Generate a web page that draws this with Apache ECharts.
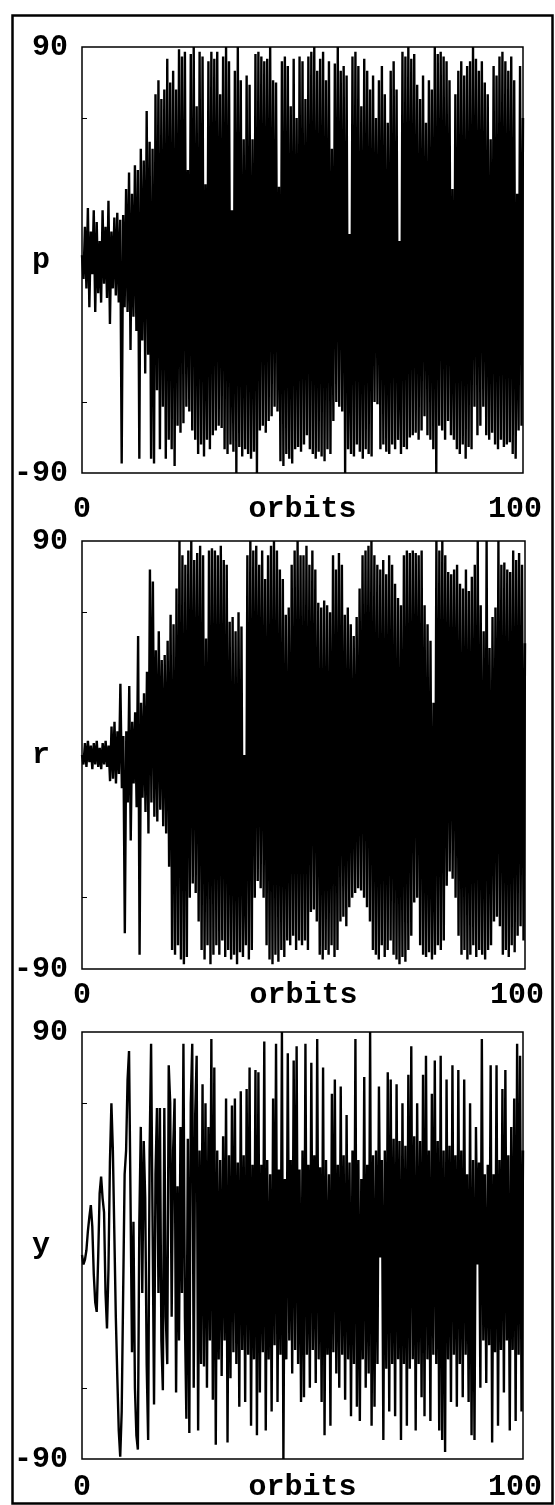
<!DOCTYPE html>
<html>
<head>
<meta charset="utf-8">
<title>p r y vs orbits</title>
<script src="https://cdn.jsdelivr.net/npm/echarts@6/dist/echarts.min.js"></script>
<style>
  html, body { margin: 0; padding: 0; background: #fff; }
  #chart { width: 555px; height: 1505px; }
</style>
</head>
<body>
<div id="chart"></div>
<script>
var pitch = [
  2,-8,14,-12,22,-20,12,-6,21,-22,16,-14,8,-18,21,-10,14,-16,25,-27,12,-12,18,-15,20,-18,17,-86,19,-20,
  30,-22,37,-38,28,-24,40,-30,38,-84,47,-34,42,-48,63,-40,50,-84,47,-86,70,-55,76,-80,68,-62,72,-84,85,-76,
  75,-80,80,-87,72,-70,89,-73,86,-69,88,-62,38,-64,87,-72,90,-76,65,-82,88,-78,86,-83,32,-76,84,-80,88,-74,
  85,-72,88,-70,70,-71,86,-80,90,-82,84,-78,21,-81,80,-90,90,-79,76,-83,51,-80,78,-82,74,-84,51,-81,87,-90,
  88,-72,86,-70,84,-73,85,-68,90,-66,76,-62,75,-64,31,-85,84,-87,86,-82,82,-84,65,-86,85,-80,60,-79,86,-81,
  84,-78,68,-74,86,-80,88,-82,90,-84,80,-81,85,-83,88,-85,76,-80,84,-82,47,-68,83,-60,90,-62,80,-64,82,-90,
  78,-80,11,-82,86,-83,88,-78,82,-81,65,-84,85,-80,80,-82,72,-83,78,-60,60,-61,76,-80,82,-78,70,-81,58,-82,
  80,-78,84,-80,72,-76,8,-82,88,-79,86,-80,90,-75,85,-74,87,-73,74,-76,68,-72,78,-66,58,-74,76,-76,72,-80,
  90,-90,87,-70,88,-72,86,-76,84,-68,76,-74,30,-76,70,-80,80,-82,84,-78,78,-84,82,-79,84,-80,90,-62,85,-74,
  80,-70,84,-62,75,-74,70,-76,51,-73,82,-78,78,-80,86,-76,88,-79,84,-78,80,-77,86,-82,76,-84,28,-72,82,-70,
  60
];

var roll = [
  0,-4,5,-5,6,-3,4,-6,5,-4,6,-5,3,-6,5,-4,6,-5,4,-11,12,-10,14,-12,10,-8,30,-14,8,-75,
  10,-20,29,-36,14,-12,18,-22,50,-84,22,-18,26,-24,35,-33,78,-20,73,-26,44,-28,52,-23,40,-30,42,-33,48,-47,
  59,-82,55,-84,70,-80,90,-86,84,-88,80,-85,86,-60,90,-54,82,-58,85,-70,88,-82,84,-86,49,-80,86,-88,87,-84,
  86,-80,84,-84,88,-78,82,-85,80,-82,56,-86,58,-84,52,-88,60,-83,54,-85,0,-80,84,-86,90,-82,86,-60,88,-53,
  80,-56,86,-60,74,-80,84,-86,88,-88,90,-84,86,-87,78,-82,74,-85,59,-78,62,-80,80,-76,86,-82,90,-78,84,-80,
  84,-78,88,-82,80,-66,86,-65,78,-70,64,-84,62,-86,65,-82,63,-84,60,-80,84,-85,78,-82,85,-70,80,-68,59,-72,
  62,-64,55,-60,50,-58,58,-56,70,-57,84,-60,86,-64,88,-70,90,-82,84,-84,80,-86,78,-80,82,-85,76,-82,84,-78,
  80,-84,72,-86,66,-88,63,-85,84,-87,86,-82,85,-76,86,-62,85,-60,84,-80,86,-84,63,-85,55,-83,48,-86,22,-84,
  90,-80,86,-82,90,-78,84,-55,77,-49,76,-52,78,-60,80,-76,72,-84,70,-82,78,-86,69,-84,75,-80,80,-85,90,-82,
  63,-84,52,-86,90,-82,45,-80,58,-70,62,-68,90,-72,80,-84,81,-82,78,-85,77,-80,86,-83,82,-76,85,-72,80,-78,
  47
];

var yaw = [
  -4,-8,-6,-2,6,12,17,8,-12,-24,-28,-5,22,29,20,14,-20,-35,-10,35,60,40,5,-30,-55,-78,-89,-70,-20,30,
  40,70,82,20,-45,10,-60,-80,-86,10,50,-20,44,20,-50,-82,40,85,10,-67,30,58,-20,58,-40,-61,58,-30,-50,76,
  60,-30,40,62,-62,25,-40,50,-20,85,-30,-73,45,-79,60,85,-60,55,80,-78,40,-50,68,-51,60,-60,50,-40,87,-65,
  75,-84,40,-48,36,-55,46,-40,62,-83,38,-56,59,-45,62,-50,35,-68,65,-44,38,-66,66,-46,75,-76,34,-48,74,-80,
  73,-62,34,-45,86,-78,36,-48,30,-70,62,-42,85,-66,32,-46,90,-90,28,-48,81,-40,36,-54,78,-44,84,-50,32,-66,
  40,-64,85,-46,34,-60,77,-44,38,-58,87,-48,33,-66,75,-80,36,-46,30,-76,64,-45,70,-54,34,-60,67,-46,38,-65,
  55,-48,35,-72,40,-50,87,-68,36,-74,28,-48,71,-60,34,-54,90,-76,38,-68,40,-50,67,-5,36,-82,40,-52,73,-70,
  70,-50,45,-72,68,-48,44,-82,60,-50,42,-76,72,-52,84,-48,46,-78,60,-50,44,-64,72,-72,80,-48,40,-74,64,-46,
  78,-50,44,-78,80,-82,40,-87,70,-48,42,-66,76,-46,38,-68,74,-50,40,-64,70,-46,30,-66,60,-80,36,-82,50,-8,
  35,-60,87,-40,30,-58,34,-42,76,-83,30,-45,76,-76,36,-44,66,-62,74,-40,38,-78,50,-44,62,-74,85,-46,80,-70,
  40
];

var panelNames = ['p', 'r', 'y'];
var yLabels = [-90, 90];
var yTicks = [-60, 60];
var xLabels = [0, 100];
var xTicks = [20, 40, 60, 80];

var FONT = 'Liberation Mono';
var txt = { fontFamily: FONT, fontWeight: 'bold', fontSize: 30, color: '#000' };

function toPairs(arr) {
  return arr.map(function (v, i) { return [i * 100 / (arr.length - 1), v]; });
}

var grids = [
  { left: 82, top: 47, width: 441, height: 426 },
  { left: 82, top: 541, width: 443, height: 428 },
  { left: 82, top: 1032, width: 441, height: 427 }
];
var labelGap = [21, 11, 13];

var option = {
  animation: false,
  backgroundColor: '#fff',
  grid: grids.map(function (g) {
    return Object.assign({
      show: true, borderColor: '#000', borderWidth: 1.5,
      containLabel: false, outerBoundsMode: 'none'
    }, g);
  }),
  xAxis: grids.map(function (g, k) {
    return {
      gridIndex: k, type: 'value', min: 0, max: 100,
      name: 'orbits', nameLocation: 'middle', nameGap: labelGap[k],
      nameMoveOverlap: false,
      nameTextStyle: txt,
      axisLine: { show: false },
      splitLine: { show: false },
      axisTick: { show: true, inside: true, length: 5, customValues: xTicks, lineStyle: { color: '#000', width: 1 } },
      axisLabel: Object.assign({ customValues: xLabels, margin: labelGap[k] }, txt, {
        formatter: function (v) { return v === 100 ? '{r|100}' : '{n|' + v + '}'; },
        rich: {
          r: Object.assign({ padding: [0, 16, 0, 0] }, txt),
          n: Object.assign({}, txt)
        }
      })
    };
  }),
  yAxis: grids.map(function (g, k) {
    return {
      gridIndex: k, type: 'value', min: -90, max: 90,
      name: panelNames[k], nameLocation: 'middle', nameRotate: 0, nameGap: 32,
      nameMoveOverlap: false,
      nameTextStyle: txt,
      axisLine: { show: false },
      splitLine: { show: false },
      axisTick: { show: true, inside: true, length: 5, customValues: yTicks, lineStyle: { color: '#000', width: 1 } },
      axisLabel: Object.assign({ customValues: yLabels, margin: 14 }, txt)
    };
  }),
  series: [pitch, roll, yaw].map(function (arr, k) {
    return {
      type: 'line', xAxisIndex: k, yAxisIndex: k,
      data: toPairs(arr),
      showSymbol: false, symbol: 'none', clip: true,
      lineStyle: { color: '#000', width: 2.4 }
    };
  }),
  graphic: [{
    type: 'rect', left: 10, top: 13,
    shape: { width: 540, height: 1488 },
    style: { fill: 'none', stroke: '#000', lineWidth: 2.5 }
  }]
};

var chart = echarts.init(document.getElementById('chart'));
chart.setOption(option);
</script>
</body>
</html>
